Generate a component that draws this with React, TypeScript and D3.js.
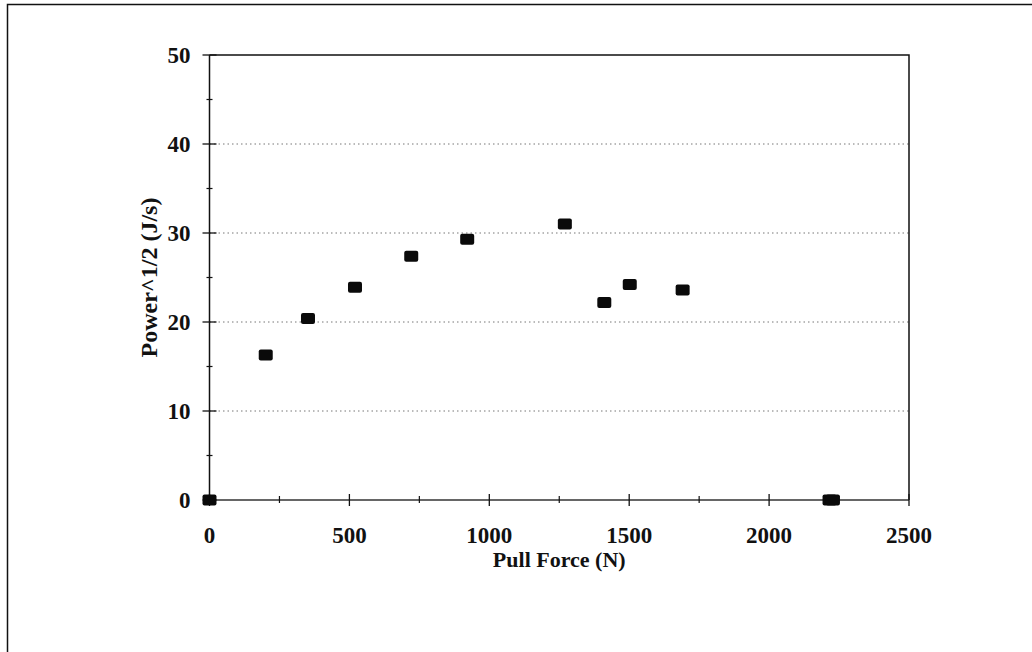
import React, { useEffect, useRef } from 'react';
import * as d3 from 'd3';

// measured points (Pull Force N, Power^1/2 J/s)
const pullForce = [0, 201, 352, 520, 721, 921, 1270, 1411, 1502, 1691, 2216, 2228];
const powerRoot = [0, 16.3, 20.4, 23.9, 27.4, 29.3, 31.0, 22.2, 24.2, 23.6, 0, 0];

const xTicks = [0, 500, 1000, 1500, 2000, 2500];
const xMinorTicks = [250, 750, 1250, 1750, 2250];
const yTicks = [0, 10, 20, 30, 40, 50];
const yMinorTicks = [5, 15, 25, 35, 45];
const gridValues = [10, 20, 30, 40];

const App = () => {
  const svgRef = useRef(null);

  useEffect(() => {
    const svg = d3.select(svgRef.current);
    svg.selectAll('*').remove();

    const width = 1032;
    const height = 652;
    svg.attr('width', width).attr('height', height);

    const font = '"Liberation Serif", "Times New Roman", serif';

    const x = d3.scaleLinear().domain([0, 2500]).range([209.5, 909]);
    const y = d3.scaleLinear().domain([0, 50]).range([500, 55]);

    // outer frame
    svg.append('rect')
      .attr('x', 7.5)
      .attr('y', 4.5)
      .attr('width', width + 20)
      .attr('height', height + 20)
      .attr('fill', 'white')
      .attr('stroke', '#111')
      .attr('stroke-width', 1.5);

    // dotted grid
    svg.append('g')
      .selectAll('line')
      .data(gridValues)
      .enter().append('line')
      .attr('x1', x(0))
      .attr('x2', x(2500))
      .attr('y1', d => y(d))
      .attr('y2', d => y(d))
      .attr('stroke', '#777')
      .attr('stroke-width', 1)
      .attr('stroke-dasharray', '1.5,3');

    // top and right border of plot
    svg.append('path')
      .attr('d', `M${x(0)},${y(50)}H${x(2500)}V${y(0)}`)
      .attr('fill', 'none')
      .attr('stroke', '#111')
      .attr('stroke-width', 1.5);

    // x axis
    const xAxis = svg.append('g').attr('transform', `translate(0,${y(0)})`);
    xAxis.append('line')
      .attr('x1', x(0)).attr('x2', x(2500))
      .attr('stroke', '#333').attr('stroke-width', 1.5);
    xAxis.selectAll('.major')
      .data(xTicks)
      .enter().append('line')
      .attr('x1', d => x(d)).attr('x2', d => x(d))
      .attr('y1', -6).attr('y2', 6)
      .attr('stroke', '#111').attr('stroke-width', 1.3);
    xAxis.selectAll('.minor')
      .data(xMinorTicks)
      .enter().append('line')
      .attr('x1', d => x(d)).attr('x2', d => x(d))
      .attr('y1', -4).attr('y2', 3)
      .attr('stroke', '#111').attr('stroke-width', 1.2);
    xAxis.selectAll('text')
      .data(xTicks)
      .enter().append('text')
      .attr('x', d => x(d))
      .attr('y', 43)
      .attr('text-anchor', 'middle')
      .attr('font-family', font)
      .attr('font-weight', 'bold')
      .attr('font-size', '23px')
      .attr('fill', '#111')
      .text(d => d);

    // y axis
    const yAxis = svg.append('g').attr('transform', `translate(${x(0)},0)`);
    yAxis.append('line')
      .attr('y1', y(0)).attr('y2', y(50))
      .attr('stroke', '#111').attr('stroke-width', 1.5);
    yAxis.selectAll('.major')
      .data(yTicks)
      .enter().append('line')
      .attr('y1', d => y(d)).attr('y2', d => y(d))
      .attr('x1', -7).attr('x2', 7)
      .attr('stroke', '#111').attr('stroke-width', 1.3);
    yAxis.selectAll('.minor')
      .data(yMinorTicks)
      .enter().append('line')
      .attr('y1', d => y(d)).attr('y2', d => y(d))
      .attr('x1', -3).attr('x2', 3)
      .attr('stroke', '#111').attr('stroke-width', 1.2);
    yAxis.selectAll('text')
      .data(yTicks)
      .enter().append('text')
      .attr('x', -19)
      .attr('y', d => y(d))
      .attr('dy', '0.34em')
      .attr('text-anchor', 'end')
      .attr('font-family', font)
      .attr('font-weight', 'bold')
      .attr('font-size', '23px')
      .attr('fill', '#111')
      .text(d => d);

    // axis titles
    svg.append('text')
      .attr('x', (x(0) + x(2500)) / 2)
      .attr('y', 567)
      .attr('text-anchor', 'middle')
      .attr('font-family', font)
      .attr('font-weight', 'bold')
      .attr('font-size', '22px')
      .attr('fill', '#111')
      .text('Pull Force (N)');

    svg.append('text')
      .attr('transform', `translate(157,${(y(0) + y(50)) / 2}) rotate(-90)`)
      .attr('text-anchor', 'middle')
      .attr('font-family', font)
      .attr('font-weight', 'bold')
      .attr('font-size', '24px')
      .attr('fill', '#111')
      .text('Power^1/2 (J/s)');

    // markers
    svg.append('g')
      .selectAll('rect')
      .data(pullForce.map((f, i) => ({ f, p: powerRoot[i] })))
      .enter().append('rect')
      .attr('x', d => x(d.f) - 7)
      .attr('y', d => y(d.p) - 5.5)
      .attr('width', 14)
      .attr('height', 11)
      .attr('rx', 2)
      .attr('fill', '#0a0a0a');
  }, []);

  return (
    <div style={{ position: 'absolute', left: 0, top: 0, width: 1032, height: 652, overflow: 'hidden', background: 'white' }}>
      <svg ref={svgRef} style={{ display: 'block' }}></svg>
    </div>
  );
};

export default App;
